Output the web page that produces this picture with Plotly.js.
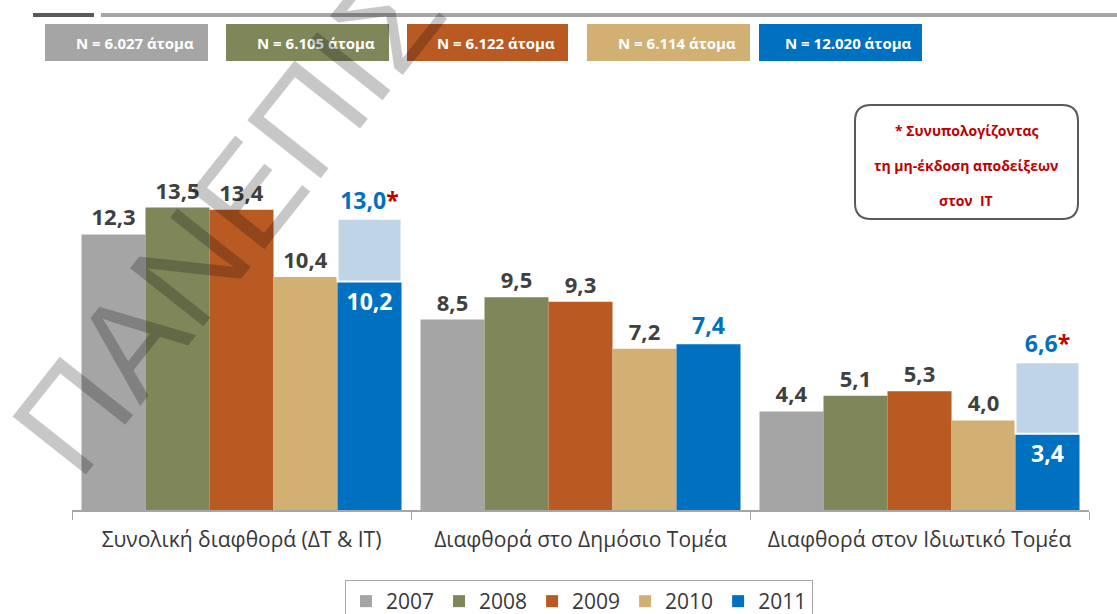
<!DOCTYPE html>
<html>
<head>
<meta charset="utf-8">
<script src="https://cdn.plot.ly/plotly-3.0.1.min.js"></script>
<style>
  html, body { margin: 0; padding: 0; background: #fff; }
  #chart { width: 1117px; height: 614px; }
</style>
</head>
<body>
<div id="chart"></div>
<script>
// categories and yearly values (%)
const categories = ['Συνολική διαφθορά (ΔΤ & ΙΤ)', 'Διαφθορά στο Δημόσιο Τομέα', 'Διαφθορά στον Ιδιωτικό Τομέα'];
const years = ['2007', '2008', '2009', '2010', '2011'];
const v2007 = [12.3, 8.5, 4.4];
const v2008 = [13.5, 9.5, 5.1];
const v2009 = [13.4, 9.3, 5.3];
const v2010 = [10.4, 7.2, 4.0];
const v2011 = [10.2, 7.4, 3.4];
// 2011 incl. non-issuance of receipts in private sector
const v2011Incl = [13.0, null, 6.6];
const sampleSizes = ['6.027', '6.105', '6.122', '6.114', '12.020'];
const yearColors = ['#A5A5A5', '#7F865A', '#B95A22', '#D2B074', '#0070C0'];

const fmt = v => v.toFixed(1).replace('.', ',');
const series = [v2007, v2008, v2009, v2010, v2011];

// pixel -> paper helpers (plot area 72..1089 x 62..510)
const L = 72, R = 1089, T = 62, B = 510;
const px = x => (x - L) / (R - L);
const py = y => (B - y) / (B - T);

const labelFont = { family: 'Open Sans', size: 22, color: '#404040', weight: 700 };

const traces = series.map((vals, i) => {
    const tr = {
        type: 'bar',
        name: years[i],
        x: categories,
        y: vals,
        offsetgroup: years[i],
        marker: { color: yearColors[i] },
        text: vals.map(fmt),
        textposition: 'outside',
        textfont: labelFont,
        constraintext: 'none',
        cliponaxis: false,
        hoverinfo: 'skip'
    };
    if (years[i] === '2011') {
        tr.textposition = v2011Incl.map(v => v === null ? 'outside' : 'inside');
        tr.textfont = {
            family: 'Open Sans', size: 23, weight: 700,
            color: v2011Incl.map(v => v === null ? '#0070C0' : '#FFFFFF')
        };
        tr.insidetextanchor = 'end';
    }
    return tr;
});

// extra part on top of 2011
traces.push({
    type: 'bar',
    name: '2011*',
    showlegend: false,
    x: categories,
    y: v2011Incl.map((v, i) => v === null ? null : +(v - v2011[i]).toFixed(1)),
    base: v2011,
    offsetgroup: '2011',
    marker: { color: '#C0D4E7', line: { color: '#FFFFFF', width: 2 } },
    text: v2011Incl.map(v => v === null ? '' : fmt(v) + '<span style="color:#C00000">*</span>'),
    textposition: 'outside',
    textfont: { family: 'Open Sans', size: 23, color: '#0070C0', weight: 700 },
    constraintext: 'none',
    cliponaxis: false,
    hoverinfo: 'skip'
});

function roundedRect(x0, y0, x1, y1, r) {
    const rx = r / (R - L), ry = r / (B - T);
    const a = px(x0), b = px(x1), top = py(y0), bot = py(y1);
    return 'M' + (a + rx) + ',' + top +
        ' L' + (b - rx) + ',' + top +
        ' Q' + b + ',' + top + ' ' + b + ',' + (top - ry) +
        ' L' + b + ',' + (bot + ry) +
        ' Q' + b + ',' + bot + ' ' + (b - rx) + ',' + bot +
        ' L' + (a + rx) + ',' + bot +
        ' Q' + a + ',' + bot + ' ' + a + ',' + (bot + ry) +
        ' L' + a + ',' + (top - ry) +
        ' Q' + a + ',' + top + ' ' + (a + rx) + ',' + top + ' Z';
}

const boxX = [[45, 208], [226, 389], [407, 568], [587, 750], [759, 922]];
const shapes = [
    { type: 'line', xref: 'paper', yref: 'paper', x0: px(33), x1: px(94), y0: py(15), y1: py(15), line: { color: '#595959', width: 4 } },
    { type: 'line', xref: 'paper', yref: 'paper', x0: px(101), x1: px(1117), y0: py(15), y1: py(15), line: { color: '#A6A6A6', width: 4 } },
    { type: 'path', xref: 'paper', yref: 'paper', path: roundedRect(855, 105, 1078, 219, 16), line: { color: '#595959', width: 2 }, fillcolor: 'rgba(0,0,0,0)' }
];
const annotations = [];
boxX.forEach((bx, i) => {
    shapes.push({
        type: 'rect', xref: 'paper', yref: 'paper', layer: 'below',
        x0: px(bx[0]), x1: px(bx[1]), y0: py(24), y1: py(61),
        fillcolor: yearColors[i], line: { width: 0 }
    });
    annotations.push({
        xref: 'paper', yref: 'paper', xanchor: 'center', yanchor: 'middle',
        x: px((bx[0] + bx[1]) / 2 + 8), y: py(43),
        text: 'N = ' + sampleSizes[i] + ' άτομα', showarrow: false,
        font: { family: 'Open Sans', size: 15, color: '#FFFFFF', weight: 700 }
    });
});

const noteLines = ['* Συνυπολογίζοντας', 'τη μη-έκδοση αποδείξεων', 'στον  ΙΤ'];
const noteY = [131, 166, 200];
noteLines.forEach((t, i) => {
    annotations.push({
        xref: 'paper', yref: 'paper', xanchor: 'center', yanchor: 'middle',
        x: px(966), y: py(noteY[i]),
        text: t, showarrow: false,
        font: { family: 'Open Sans', size: 14, color: '#C00000', weight: 700 }
    });
});

// watermark
annotations.push({
    xref: 'paper', yref: 'paper', xanchor: 'center', yanchor: 'middle',
    x: px(364), y: py(48),
    text: 'ΠΑΝΕΠΙΣΤΗΜΙΟ', showarrow: false, textangle: -51.6,
    font: { family: 'Liberation Sans', size: 136, color: 'rgba(0,0,0,0.22)' }
});

const layout = {
    width: 1117,
    height: 614,
    margin: { l: L, r: 1117 - R, t: T, b: 614 - B },
    paper_bgcolor: '#FFFFFF',
    plot_bgcolor: '#FFFFFF',
    font: { family: 'Open Sans', color: '#404040' },
    barmode: 'group',
    bargap: 0.056,
    bargroupgap: 0,
    xaxis: {
        type: 'category',
        tickson: 'boundaries',
        ticks: 'outside',
        ticklen: 8,
        tickcolor: '#A6A6A6',
        showline: true,
        linecolor: '#A6A6A6',
        linewidth: 1.5,
        showgrid: false,
        automargin: false,
        ticklabelstandoff: 10,
        tickfont: { family: 'Open Sans', size: 21, color: '#383838' }
    },
    yaxis: { visible: false, range: [0, 20], fixedrange: true },
    showlegend: true,
    legend: {
        orientation: 'h',
        xref: 'container', yref: 'container',
        x: 579 / 1117, xanchor: 'center',
        y: 1 - 580 / 614, yanchor: 'top',
        bordercolor: '#A6A6A6',
        borderwidth: 1,
        font: { family: 'Open Sans', size: 21, color: '#383838' },
        traceorder: 'normal'
    },
    shapes: shapes,
    annotations: annotations
};

Plotly.newPlot('chart', traces, layout, { displayModeBar: false, staticPlot: true });
</script>
</body>
</html>
